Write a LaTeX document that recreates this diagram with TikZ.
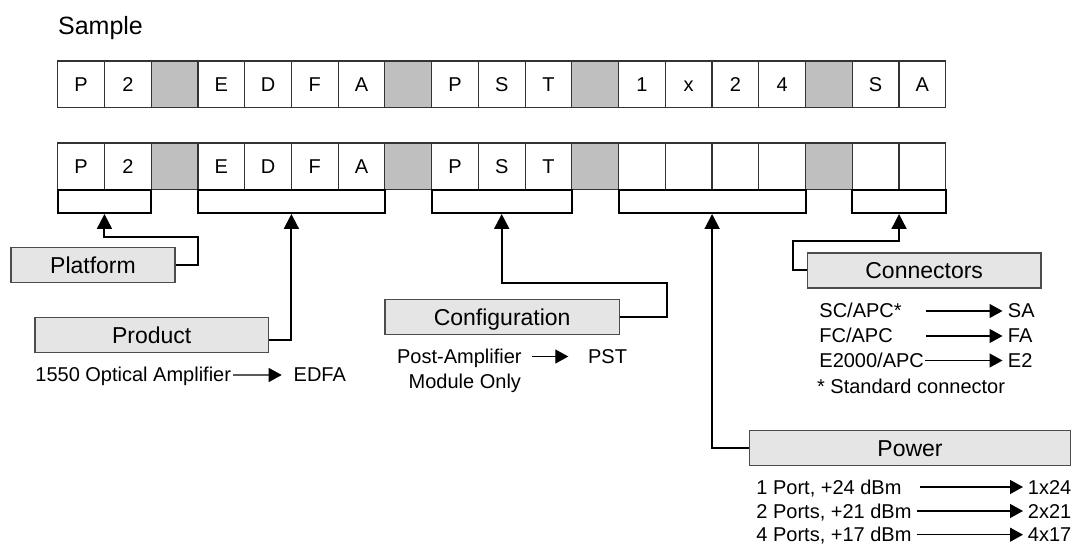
\documentclass[tikz,border=0pt]{standalone}
\usepackage{fontspec}
\setmainfont{Liberation Sans}
\usetikzlibrary{arrows.meta,calc}
\begin{document}
\begin{tikzpicture}[x=0.5pt,y=-0.5pt,
  cell/.style={draw=black!80,line width=0.6pt,minimum width=23.37pt,minimum height=23.37pt,inner sep=0pt,text height=7.16pt,text depth=0pt,font=\fontsize{10}{12}\selectfont},
  bracketbox/.style={draw=black,line width=1pt,minimum width=#1,minimum height=11.65pt,inner sep=0pt},
  lbl/.style={draw=black!70,fill=black!10,line width=0.6pt,minimum height=17.5pt,inner sep=0pt,text height=8.23pt,text depth=0pt,font=\fontsize{11.5}{13}\selectfont},
  txt/.style={anchor=base west,inner sep=0pt,font=\fontsize{10}{12}\selectfont},
  conn/.style={line width=1pt,-{Triangle[length=7.5pt,width=7.5pt]}},
  larr/.style={line width=0.65pt,-{Triangle[length=6.5pt,width=7pt]}},
]
\useasboundingbox (0,0) rectangle (1074,544);

\node[anchor=base west,inner sep=0pt,font=\fontsize{12.5}{15}\selectfont] (sample) at (57.7,34.5) {Sample};

% row 1
\foreach \i/\t/\c in {0/P/white,1/2/white,2/{}/black!25,3/E/white,4/D/white,5/F/white,6/A/white,7/{}/black!25,8/P/white,9/S/white,10/T/white,11/{}/black!25,12/1/white,13/x/white,14/2/white,15/4/white,16/{}/black!25,17/S/white,18/A/white}
  \node[cell,fill=\c] (a\i) at ({57.7+46.74*(\i+0.5)},84.35) {\t};

% row 2
\foreach \i/\t/\c in {0/P/white,1/2/white,2/{}/black!25,3/E/white,4/D/white,5/F/white,6/A/white,7/{}/black!25,8/P/white,9/S/white,10/T/white,11/{}/black!25,12/{}/white,13/{}/white,14/{}/white,15/{}/white,16/{}/black!25,17/{}/white,18/{}/white}
  \node[cell,fill=\c] (b\i) at ({57.7+46.74*(\i+0.5)},166.35) {\t};

% brackets
\node[bracketbox=46.74pt] (br1) at (104.45,201.35) {};
\node[bracketbox=93.48pt] (br2) at (291.4,201.35) {};
\node[bracketbox=70.11pt] (br3) at (501.7,201.35) {};
\node[bracketbox=93.48pt] (br4) at (712.1,201.35) {};
\node[bracketbox=46.74pt] (br5) at (899.05,201.35) {};

% label boxes
\node[lbl,minimum width=82pt] (plat) at (93,265.2) {Platform};
\node[lbl,minimum width=116.65pt] (prod) at (151.65,334.8) {Product};
\node[lbl,minimum width=117.15pt] (conf) at (502.15,317.15) {Configuration};
\node[lbl,minimum width=116.85pt] (conn) at (924.15,270.5) {Connectors};
\node[lbl,minimum width=160.7pt] (pow) at (910,448.2) {Power};

% connectors
\draw[conn] (plat.east) -| (198.3,236.7) -| (br1.south);
\draw[conn] ([yshift=-2.6pt]prod.east) -| (br2.south);
\draw[conn] (conf.east) -| (667.3,282.7) -| (br3.south);
\draw[conn] (conn.west) -| (792.7,240.7) -| (br5.south);
\draw[conn] (pow.west) -| (br4.south);

% product list
\node[txt] (p1) at (35,381.7) {1550 Optical Amplifier};
\node[txt] (p1r) at (293.3,381.7) {EDFA};
\coordinate (p1s) at (233,375);
\draw[larr] (p1s) -- ([xshift=-5.8pt,yshift=3.35pt]p1r.base west);

% configuration list
\node[txt] (c1) at (396.7,363.3) {Post-Amplifier};
\node[txt] (c2) at (408.3,388.3) {Module Only};
\node[txt] (c1r) at (587.7,363.3) {PST};
\coordinate (c1s) at (531.7,356.5);
\draw[larr] (c1s) -- ([xshift=-9.7pt,yshift=3.4pt]c1r.base west);

% connectors list
\node[txt] (k1) at (819,318) {SC/APC*};
\node[txt] (k2) at (819,343) {FC/APC};
\node[txt] (k3) at (819,367.5) {E2000/APC};
\node[txt] (k4) at (816.7,393.3) {* Standard connector};
\node[txt] (k1r) at (1007.5,318) {SA};
\node[txt] (k2r) at (1007.5,343) {FA};
\node[txt] (k3r) at (1007.5,367.5) {E2};
\coordinate (k1s) at (926,311);
\coordinate (k2s) at (926,336);
\coordinate (k3s) at (925,360.5);
\draw[larr] (k1s) -- ([xshift=-2.5pt,yshift=3.5pt]k1r.base west);
\draw[larr] (k2s) -- ([xshift=-2.5pt,yshift=3.5pt]k2r.base west);
\draw[larr] (k3s) -- ([xshift=-2.5pt,yshift=3.5pt]k3r.base west);

% power list
\node[txt] (w1) at (756,494) {1 Port, +24 dBm};
\node[txt] (w2) at (756,518) {2 Ports, +21 dBm};
\node[txt] (w3) at (756,541.7) {4 Ports, +17 dBm};
\node[txt] (w1r) at (1027.5,494) {1x24};
\node[txt] (w2r) at (1027.5,518) {2x21};
\node[txt] (w3r) at (1027.5,541.7) {4x17};
\coordinate (w1s) at (920,487);
\coordinate (w2s) at (916.7,511);
\coordinate (w3s) at (916.7,534.7);
\draw[larr] (w1s) -- ([xshift=-2.25pt,yshift=3.5pt]w1r.base west);
\draw[larr] (w2s) -- ([xshift=-2.25pt,yshift=3.5pt]w2r.base west);
\draw[larr] (w3s) -- ([xshift=-2.25pt,yshift=3.5pt]w3r.base west);
\end{tikzpicture}
\end{document}
